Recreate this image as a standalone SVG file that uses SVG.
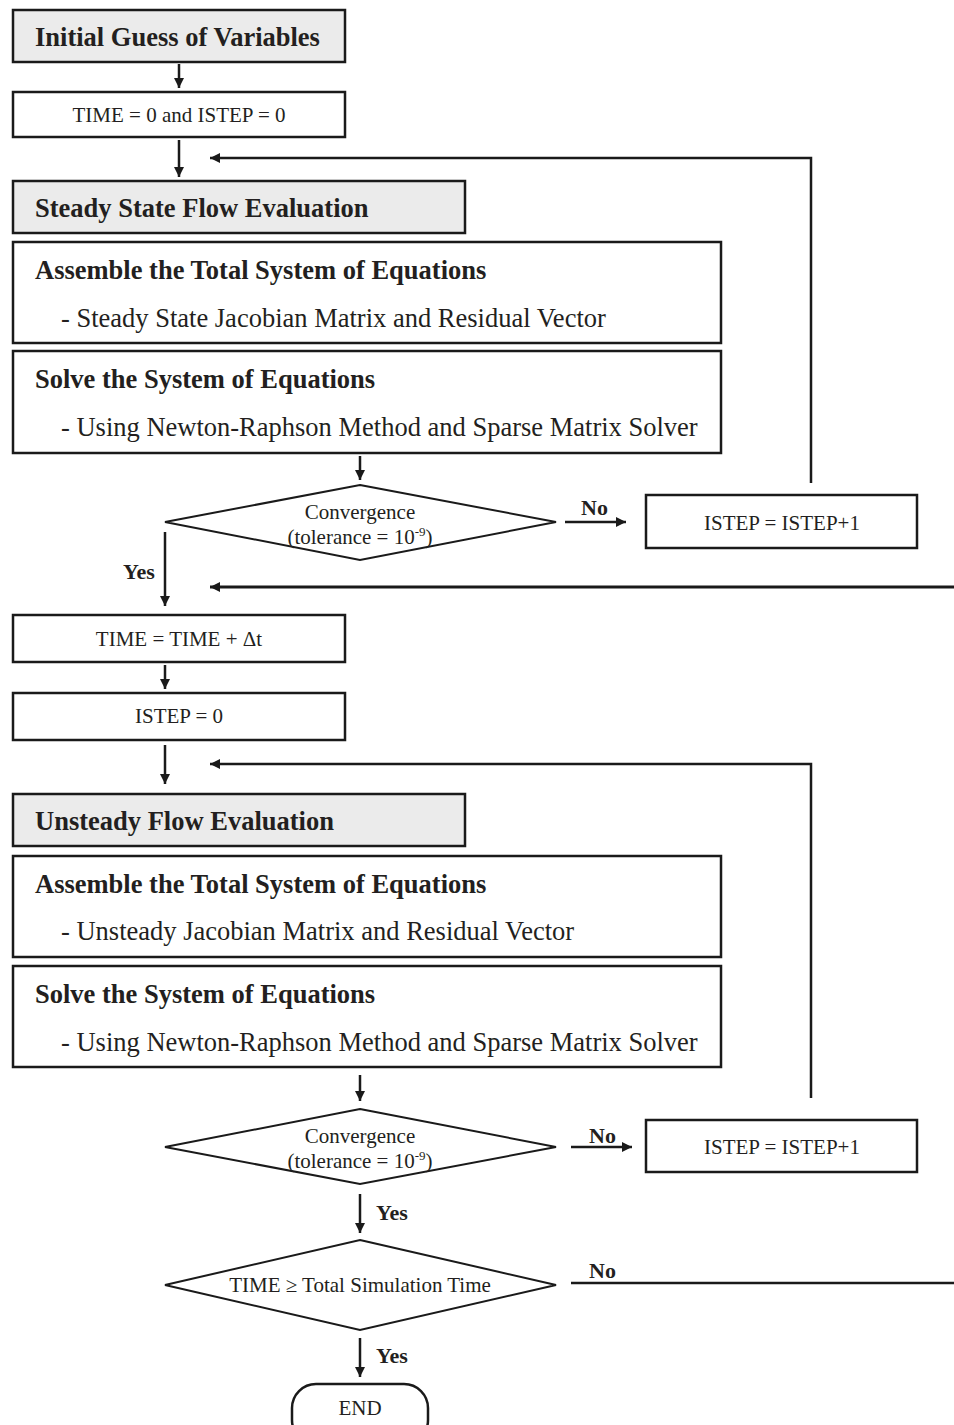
<svg xmlns="http://www.w3.org/2000/svg" width="954" height="1425" viewBox="0 0 954 1425">
<defs>
<marker id="ah" viewBox="0 0 10 10" refX="10" refY="5" markerWidth="10" markerHeight="10" markerUnits="userSpaceOnUse" orient="auto">
<path d="M0,0 L10,5 L0,10 Z" fill="#1a1a1a"/>
</marker>
<style>
.box{fill:#fff;stroke:#1a1a1a;stroke-width:2.5}
.gbox{fill:#ebebeb;stroke:#1a1a1a;stroke-width:2.5}
.dia{fill:#fff;stroke:#1a1a1a;stroke-width:2}
.ln{fill:none;stroke:#1a1a1a;stroke-width:2.5}
.lnt{fill:none;stroke:#1a1a1a;stroke-width:3}
text{font-family:"Liberation Serif","Times New Roman",serif;fill:#231f20}
.h{font-size:26.5px;font-weight:bold}
.s{font-size:26.5px}
.m{font-size:21px;text-anchor:middle}
.lb{font-size:22px;font-weight:bold}
</style>
</defs>
<g id="connectors">
<line class="ln" x1="179" y1="64" x2="179" y2="88" marker-end="url(#ah)"/>
<line class="ln" x1="179" y1="140" x2="179" y2="177" marker-end="url(#ah)"/>
<polyline class="ln" points="811,483 811,158 210,158" marker-end="url(#ah)"/>
<line class="ln" x1="360" y1="456" x2="360" y2="480" marker-end="url(#ah)"/>
<line class="ln" x1="565" y1="522" x2="626" y2="522" marker-end="url(#ah)"/>
<text class="lb" x="581" y="515">No</text>
<line class="ln" x1="165" y1="532" x2="165" y2="606" marker-end="url(#ah)"/>
<text class="lb" x="123" y="579">Yes</text>
<line class="lnt" x1="954" y1="587" x2="210" y2="587" marker-end="url(#ah)"/>
<line class="ln" x1="165" y1="665" x2="165" y2="689" marker-end="url(#ah)"/>
<line class="ln" x1="165" y1="745" x2="165" y2="784" marker-end="url(#ah)"/>
<polyline class="ln" points="811,1098 811,764 210,764" marker-end="url(#ah)"/>
<line class="ln" x1="360" y1="1075" x2="360" y2="1101" marker-end="url(#ah)"/>
<line class="ln" x1="571" y1="1147" x2="632" y2="1147" marker-end="url(#ah)"/>
<text class="lb" x="589" y="1143">No</text>
<line class="ln" x1="360" y1="1194" x2="360" y2="1233" marker-end="url(#ah)"/>
<text class="lb" x="376" y="1220">Yes</text>
<line class="ln" x1="571" y1="1283" x2="954" y2="1283"/>
<text class="lb" x="589" y="1278">No</text>
<line class="ln" x1="360" y1="1338" x2="360" y2="1377" marker-end="url(#ah)"/>
<text class="lb" x="376" y="1363">Yes</text>
</g>
<g id="n1"><rect class="gbox" x="13" y="10" width="332" height="52"/><text class="h" x="35" y="46">Initial Guess of Variables</text></g>
<g id="n2"><rect class="box" x="13" y="92" width="332" height="45"/><text class="m" x="179" y="122">TIME = 0 and ISTEP = 0</text></g>
<g id="n3"><rect class="gbox" x="13" y="181" width="452" height="52"/><text class="h" x="35" y="217">Steady State Flow Evaluation</text></g>
<g id="n4"><rect class="box" x="13" y="242" width="708" height="101"/><text class="h" x="35" y="279">Assemble the Total System of Equations</text><text class="s" x="61" y="327">- Steady State Jacobian Matrix and Residual Vector</text></g>
<g id="n5"><rect class="box" x="13" y="351" width="708" height="102"/><text class="h" x="35" y="388">Solve the System of Equations</text><text class="s" x="61" y="436">- Using Newton-Raphson Method and Sparse Matrix Solver</text></g>
<g id="d1"><polygon class="dia" points="360,485 556,522 360,560 165,522"/><text class="m" x="360" y="519">Convergence</text><text class="m" x="360" y="544">(tolerance = 10<tspan font-size="13" dy="-8">-9</tspan><tspan dy="8">)</tspan></text></g>
<g id="n6"><rect class="box" x="646" y="495" width="271" height="53"/><text class="m" x="782" y="530">ISTEP = ISTEP+1</text></g>
<g id="n7"><rect class="box" x="13" y="615" width="332" height="47"/><text class="m" x="179" y="646">TIME = TIME + Δt</text></g>
<g id="n8"><rect class="box" x="13" y="693" width="332" height="47"/><text class="m" x="179" y="723">ISTEP = 0</text></g>
<g id="n9"><rect class="gbox" x="13" y="794" width="452" height="52"/><text class="h" x="35" y="830">Unsteady Flow Evaluation</text></g>
<g id="n10"><rect class="box" x="13" y="856" width="708" height="101"/><text class="h" x="35" y="893">Assemble the Total System of Equations</text><text class="s" x="61" y="940">- Unsteady Jacobian Matrix and Residual Vector</text></g>
<g id="n11"><rect class="box" x="13" y="966" width="708" height="101"/><text class="h" x="35" y="1003">Solve the System of Equations</text><text class="s" x="61" y="1051">- Using Newton-Raphson Method and Sparse Matrix Solver</text></g>
<g id="d2"><polygon class="dia" points="360,1109 556,1147 360,1184 165,1147"/><text class="m" x="360" y="1143">Convergence</text><text class="m" x="360" y="1168">(tolerance = 10<tspan font-size="13" dy="-8">-9</tspan><tspan dy="8">)</tspan></text></g>
<g id="n12"><rect class="box" x="646" y="1120" width="271" height="52"/><text class="m" x="782" y="1154">ISTEP = ISTEP+1</text></g>
<g id="d3"><polygon class="dia" points="360,1240 556,1285 360,1330 165,1285"/><text class="m" x="360" y="1292">TIME ≥ Total Simulation Time</text></g>
<g id="n13"><rect class="box" x="292" y="1384" width="136" height="60" rx="24"/><text class="m" x="360" y="1415">END</text></g>
</svg>
